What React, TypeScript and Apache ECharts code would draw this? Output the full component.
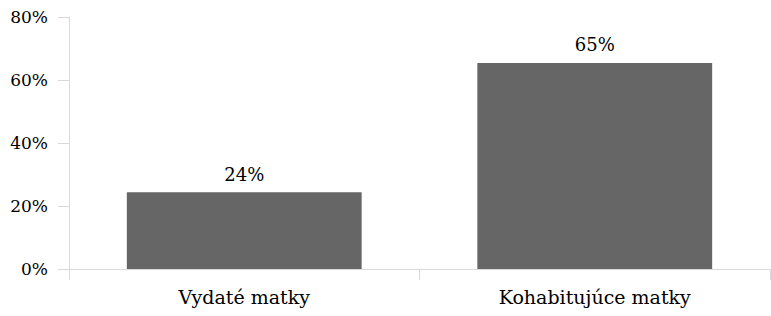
import React, { useEffect, useRef } from "react";
import * as echarts from "echarts";

const categories = ["Vydaté matky", "Kohabitujúce matky"];
const values = [24.4, 65.4];
const yTicks = [0, 20, 40, 60, 80];

const FONT = "DejaVu Serif";

export default function App() {
  const ref = useRef<HTMLDivElement>(null);
  useEffect(() => {
    if (!ref.current) return;
    const chart = echarts.init(ref.current, null, { renderer: "svg" });
    chart.setOption({
      animation: false,
      textStyle: { fontFamily: FONT },
      grid: { left: 69, right: 1, top: 17, bottom: 47, containLabel: false },
      xAxis: {
        type: "category",
        data: categories,
        axisLine: { show: true, lineStyle: { color: "#d9d9d9", width: 1 } },
        axisTick: { show: true, length: 11, lineStyle: { color: "#d9d9d9" } },
        axisLabel: { color: "#000", fontFamily: FONT, fontSize: 19, margin: 18 },
        splitLine: { show: false },
      },
      yAxis: {
        type: "value",
        min: yTicks[0],
        max: yTicks[yTicks.length - 1],
        interval: 20,
        axisLine: { show: true, lineStyle: { color: "#d9d9d9", width: 1 } },
        axisTick: { show: true, length: 11, lineStyle: { color: "#d9d9d9" } },
        axisLabel: {
          color: "#000",
          fontFamily: FONT,
          fontSize: 17,
          margin: 21,
          formatter: (v: number) => `${v}%`,
        },
        splitLine: { show: false },
      },
      series: [
        {
          type: "bar",
          data: values,
          barWidth: "67%",
          itemStyle: { color: "#666666" },
          label: {
            show: true,
            position: "top",
            distance: 9,
            color: "#000",
            fontFamily: FONT,
            fontSize: 18,
            formatter: (p: any) => `${Math.round(p.value)}%`,
          },
        },
      ],
    });
    return () => chart.dispose();
  }, []);
  return <div ref={ref} style={{ width: 771, height: 316, position: "absolute", left: 0, top: 0 }} />;
}
